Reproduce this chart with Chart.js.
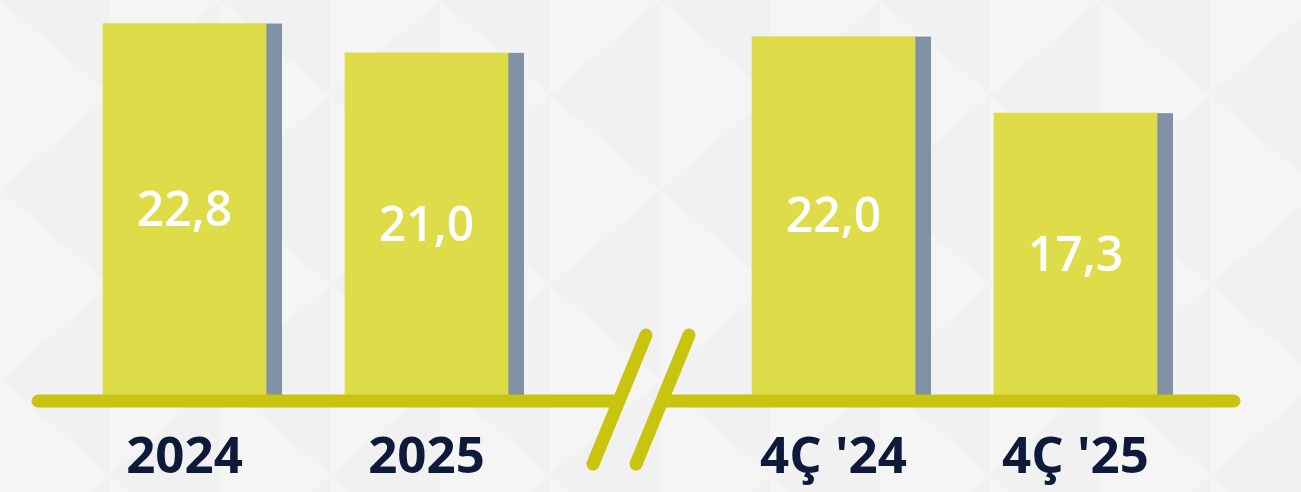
<!DOCTYPE html>
<html>
<head>
<meta charset="utf-8">
<script src="https://cdn.jsdelivr.net/npm/chart.js@4.4.1/dist/chart.umd.min.js"></script>
<style>
  html, body { margin: 0; padding: 0; background: #f1f1f1; }
  #wrap { width: 1301px; height: 492px; position: relative; }
</style>
</head>
<body>
<div id="wrap"><canvas id="graf" width="1301" height="492"></canvas></div>
<script>
// Données
const categories = ['2024', '2025', "4Ç '24", "4Ç '25"];
const valeurs = [22.8, 21.0, 22.0, 17.3];
const etiquettes = ['22,8', '21,0', '22,0', '17,3'];

// Mise en page : décalage entre les deux groupes (rupture d'axe)
const ecartGroupe = 0.682;
const positions = categories.map((c, i) => i + (i >= 2 ? ecartGroupe : 0));

const JAUNE = '#dfdc4a';
const OMBRE = '#8191a6';
const LIGNE = '#c9c40f';
const MARINE = '#0e1a3a';

// Fond léger avec triangles
const fondPlugin = {
    id: 'fond',
    beforeDraw(chart) {
        const ctx = chart.ctx;
        ctx.save();
        ctx.fillStyle = '#f1f1f1';
        ctx.fillRect(0, 0, chart.width, chart.height);
        ctx.fillStyle = 'rgba(255,255,255,0.28)';
        const w = 110, h = 190;
        for (let col = 0; col * w < chart.width + w; col++) {
            for (let row = -1; row * h < chart.height + h; row++) {
                const x = col * w, y = row * h + (col % 2 ? h / 2 : 0);
                ctx.beginPath();
                ctx.moveTo(x, y);
                ctx.lineTo(x + w, y + h / 2);
                ctx.lineTo(x, y + h);
                ctx.closePath();
                ctx.fill();
            }
        }
        ctx.restore();
    }
};

// Ombre à droite de chaque barre
const ombrePlugin = {
    id: 'ombre',
    beforeDatasetsDraw(chart) {
        const ctx = chart.ctx;
        const meta = chart.getDatasetMeta(0);
        ctx.save();
        ctx.fillStyle = OMBRE;
        meta.data.forEach(bar => {
            const right = bar.x + bar.width / 2;
            ctx.fillRect(right, bar.y, 16, bar.base - bar.y);
        });
        ctx.restore();
    }
};

// Ligne de base, rupture, étiquettes
const decorPlugin = {
    id: 'decor',
    afterDatasetsDraw(chart) {
        const ctx = chart.ctx;
        const meta = chart.getDatasetMeta(0);
        const yBase = chart.scales.y.getPixelForValue(0) + 6;
        const b1 = meta.data[1], b2 = meta.data[2];
        const cx = ((b1.x + b1.width / 2 + 16) + (b2.x - b2.width / 2)) / 2 + 2;

        ctx.save();
        ctx.strokeStyle = LIGNE;
        ctx.lineWidth = 13;
        ctx.lineCap = 'round';
        ctx.beginPath();
        ctx.moveTo(38, yBase);
        ctx.lineTo(cx - 21, yBase);
        ctx.moveTo(cx + 24, yBase);
        ctx.lineTo(1234, yBase);
        ctx.stroke();

        // rupture //
        [-21, 22].forEach(dx => {
            const x0 = cx + dx;
            ctx.beginPath();
            ctx.moveTo(x0 + 27, yBase - 66);
            ctx.lineTo(x0 - 26, yBase + 63);
            ctx.stroke();
        });

        // valeurs dans les barres
        ctx.fillStyle = '#ffffff';
        ctx.font = '600 48px "Open Sans"';
        ctx.textAlign = 'center';
        ctx.textBaseline = 'middle';
        meta.data.forEach((bar, i) => {
            ctx.fillText(etiquettes[i], bar.x, (bar.y + bar.base) / 2 + 3);
        });

        // catégories sous l'axe
        ctx.fillStyle = MARINE;
        ctx.font = '700 51px "Open Sans"';
        meta.data.forEach((bar, i) => {
            ctx.fillText(categories[i], bar.x, 458);
        });
        ctx.restore();
    }
};

new Chart(document.getElementById('graf'), {
    type: 'bar',
    data: {
        datasets: [{
            data: positions.map((x, i) => ({ x: x, y: valeurs[i] })),
            backgroundColor: JAUNE,
            barThickness: 163,
            borderWidth: 0
        }]
    },
    options: {
        responsive: false,
        animation: false,
        events: [],
        layout: { padding: { left: 63.5, right: 104.5, top: 4, bottom: 97 } },
        plugins: { legend: { display: false }, tooltip: { enabled: false } },
        scales: {
            x: { type: 'linear', display: false, offset: false, min: -0.5, max: 3.682 + 0.5 },
            y: { display: false, min: 0, max: 24 }
        }
    },
    plugins: [fondPlugin, ombrePlugin, decorPlugin]
});
</script>
</body>
</html>
